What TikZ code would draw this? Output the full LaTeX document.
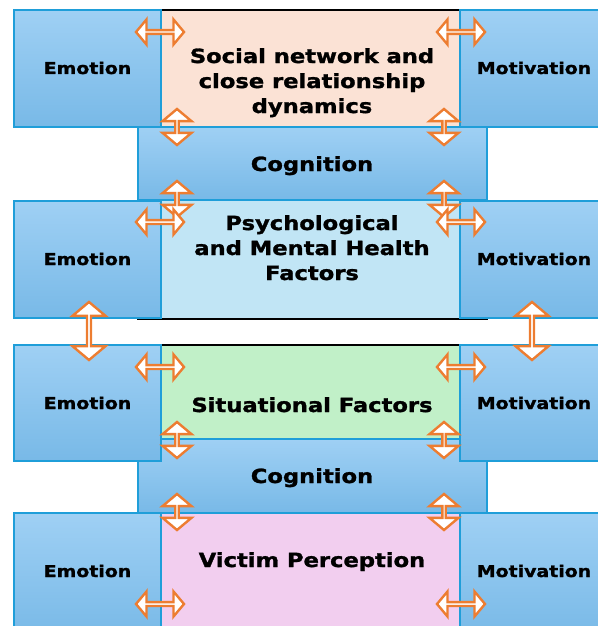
\documentclass[tikz,border=0pt]{standalone}
\usepackage{fontspec}
\setmainfont{DejaVu Sans}[FakeStretch=1.16, BoldFeatures={FakeBold=1.4}]
\usetikzlibrary{shapes.arrows, positioning}
\definecolor{sidetop}{HTML}{9FD0F4}
\definecolor{sidebot}{HTML}{78B9E7}
\definecolor{sidedraw}{HTML}{1F9ED9}
\definecolor{socfill}{HTML}{FBE2D5}
\definecolor{psyfill}{HTML}{C1E5F5}
\definecolor{sitfill}{HTML}{C1F0C8}
\definecolor{vicfill}{HTML}{F2CEEF}
\definecolor{arrdraw}{HTML}{ED7D31}
\tikzset{
  blk/.style={rectangle, anchor=north west, inner sep=0pt, outer sep=0pt, line width=1.5pt},
  side/.style={blk, draw=sidedraw, top color=sidetop, bottom color=sidebot, minimum width=147pt},
  cog/.style={blk, draw=sidedraw, top color=sidetop, bottom color=sidebot, minimum width=349pt},
  core/.style={blk, draw=black, minimum width=349pt},
  lbl/.style={anchor=base, align=center, font=\bfseries\fontsize{19.5}{25}\selectfont},
  sidelbl/.style={anchor=base, font=\bfseries\fontsize{16.3}{19}\selectfont},
  harr/.style={double arrow, draw=arrdraw, fill=white, line width=2.4pt, inner sep=0pt,
    minimum height=48pt, minimum width=25pt, double arrow head extend=6.5pt, double arrow tip angle=100},
  varr/.style={harr, shape border rotate=90, minimum height=36pt, minimum width=29pt, double arrow head extend=9pt},
  bigarr/.style={harr, shape border rotate=90, minimum height=58pt, minimum width=33pt, double arrow head extend=8.5pt},
}
\begin{document}
\begin{tikzpicture}[x=1pt, y=-1pt]
  \useasboundingbox (0,0) rectangle (597,626);
  % core factor boxes
  \node[core, fill=socfill, minimum height=117pt] (soc) at (138,10) {};
  \node[core, fill=psyfill, minimum height=119pt] (psy) at (138,200) {};
  \node[core, fill=sitfill, minimum height=94pt] (sit) at (138,345) {};
  \node[core, fill=vicfill, minimum height=125pt] (vic) at (138,513) {};
  % cognition bands
  \node[cog, minimum height=73pt] (cog1) at (138,127) {};
  \node[cog, minimum height=74pt] (cog2) at (138,439) {};
  % emotion and motivation columns
  \node[side, minimum height=117pt] (emo1) at (14,10) {};
  \node[side, minimum height=117pt] (emo2) at (14,201) {};
  \node[side, minimum height=116pt] (emo3) at (14,345) {};
  \node[side, minimum height=125pt] (emo4) at (14,513) {};
  \node[side, minimum height=117pt] (mot1) at (460,10) {};
  \node[side, minimum height=117pt] (mot2) at (460,201) {};
  \node[side, minimum height=116pt] (mot3) at (460,345) {};
  \node[side, minimum height=125pt] (mot4) at (460,513) {};

  % labels (multi-line ones sit on the baseline of their last line)
  \node[lbl] (socT) at (312,113) {Social network and\\close relationship\\dynamics};
  \node[lbl] (cog1T) at (312,171) {Cognition};
  \node[lbl] (psyT) at (312,280) {Psychological\\and Mental Health\\Factors};
  \node[lbl] (sitT) at (312,412) {Situational Factors};
  \node[lbl] (cog2T) at (312,483) {Cognition};
  \node[lbl] (vicT) at (312,567) {Victim Perception};
  \foreach \i/\y in {1/74, 2/265, 3/409, 4/577} {
    \node[sidelbl] (emo\i T) at (87.5,\y) {Emotion};
    \node[sidelbl] (mot\i T) at (534,\y) {Motivation};
  }

  % two-way arrows at the seams
  \foreach \i/\y in {1/127, 2/199, 3/440, 4/512} {
    \node[varr] (vl\i) at (177,\y) {};
    \node[varr] (vr\i) at (444,\y) {};
  }
  \foreach \i/\y in {1/32, 2/222, 3/367, 4/604} {
    \node[harr] (hl\i) at (160,\y) {};
    \node[harr] (hr\i) at (461,\y) {};
  }
  \node[bigarr] (bl) at (89,331) {};
  \node[bigarr] (br) at (532,331) {};
\end{tikzpicture}
\end{document}
